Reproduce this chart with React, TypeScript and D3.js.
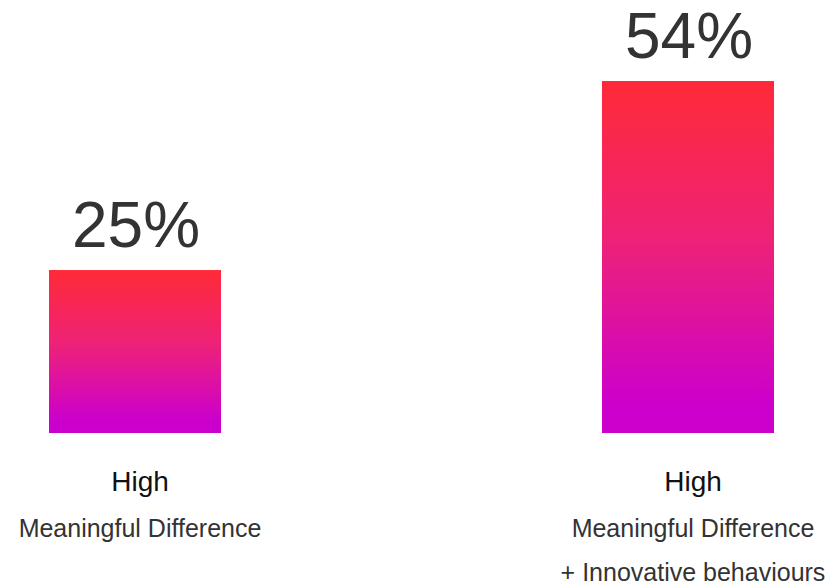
import React from "react";
import * as d3 from "d3";

const categories = ["Meaningful Difference", "Meaningful Difference + Innovative behaviours"];
const values = [25, 54];
const titleLines = [["High", "Meaningful Difference"], ["High", "Meaningful Difference", "+ Innovative behaviours"]];

const W = 836;
const H = 586;

export default function App() {
  const x = d3.scalePoint<string>().domain(categories).range([135, 688]);
  const y = d3.scaleLinear().domain([0, 54]).range([433, 81]);
  const barW = 172;
  const font = "'Liberation Sans', Arial, Helvetica, sans-serif";
  const lineY = [491, 537, 581];

  return (
    <svg
      width={W}
      height={H}
      style={{ position: "absolute", left: 0, top: 0, background: "#fff" }}
    >
      <defs>
        <linearGradient id="barFill" x1="0" y1="0" x2="0" y2="1">
          <stop offset="0" stopColor="#ff2a37" />
          <stop offset="0.45" stopColor="#ee2277" />
          <stop offset="0.92" stopColor="#cc00cc" />
          <stop offset="1" stopColor="#cc00cc" />
        </linearGradient>
      </defs>
      {categories.map((c, i) => {
        const cx = x(c)!;
        const v = values[i];
        return (
          <g key={c}>
            <rect
              x={cx - barW / 2}
              y={y(v)}
              width={barW}
              height={y(0) - y(v)}
              fill="url(#barFill)"
            />
            <text
              x={cx + 1}
              y={y(v) - 23}
              textAnchor="middle"
              fontFamily={font}
              fontSize={64}
              fill="#333333"
            >
              {`${v}%`}
            </text>
            {titleLines[i].map((t, j) => (
              <text
                key={j}
                x={cx + 5}
                y={lineY[j]}
                textAnchor="middle"
                fontFamily={font}
                fontSize={j === 0 ? 28 : 25}
                fill={j === 0 ? "#111111" : "#333333"}
              >
                {t}
              </text>
            ))}
          </g>
        );
      })}
    </svg>
  );
}
